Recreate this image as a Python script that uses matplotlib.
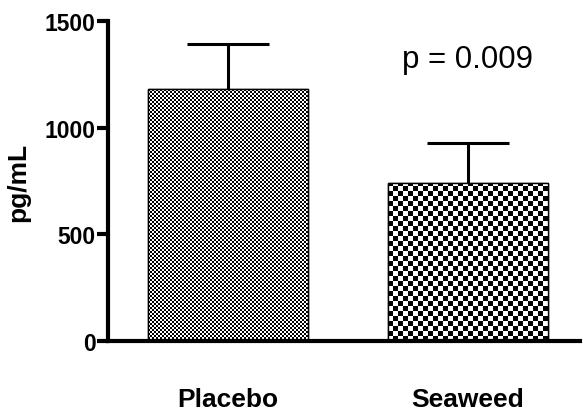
import numpy as np
import matplotlib
matplotlib.use("Agg")
import matplotlib.pyplot as plt

categories = ["Placebo", "Seaweed"]
means = [1180, 740]
sem = [210, 190]
yticks = [0, 500, 1000, 1500]
p_text = "p = 0.009"

plt.rcParams['font.family'] = ['Liberation Sans', 'DejaVu Sans']

W, H = 583, 410
fig = plt.figure(figsize=(W / 100, H / 100), dpi=100)
ax = fig.add_axes([108 / W, (H - 342) / H, (580 - 108) / W, 320 / H])

xpos = np.array([0.0, 1.5])
bars = ax.bar(xpos, means, width=1.0, color='white', edgecolor='black',
              linewidth=1.0, zorder=2)
ax.set_xlim(-0.75, 2.2)
ax.set_ylim(0, 1500)

# patterned fills
ph, pw = 320, 472
yy, xx = np.mgrid[0:ph, 0:pw]
pat1 = np.where(((xx // 2) + (yy // 2)) % 2 == 0, 0.0, 1.0)
pat2 = np.where(((xx // 5) + (yy // 5)) % 2 == 0, 0.0, 1.0)
for b, pat in zip(bars, [pat1, pat2]):
    im = ax.imshow(pat, cmap='gray', vmin=0, vmax=1, extent=[-0.75, 2.2, 0, 1500],
                   aspect='auto', interpolation='nearest', zorder=2.5, origin='upper')
    im.set_clip_path(b)
for b in bars:
    ax.add_patch(plt.Rectangle((b.get_x(), b.get_y()), b.get_width(), b.get_height(),
                               fill=False, edgecolor='black', linewidth=1.0, zorder=3))

# error bars (upper only)
cap = 0.255
for x, m, e in zip(xpos, means, sem):
    ax.vlines(x, m, m + e, color='black', linewidth=2.2, zorder=3)
    ax.hlines(m + e, x - cap, x + cap, color='black', linewidth=2.2, zorder=3)

ax.text(xpos[1], 1322, p_text, ha='center', va='center', fontsize=22.5)

for s in ['top', 'right']:
    ax.spines[s].set_visible(False)
for s in ['left', 'bottom']:
    ax.spines[s].set_linewidth(3)

ax.set_yticks(yticks)
ax.set_yticklabels([str(t) for t in yticks], fontsize=16.5, fontweight='bold')
ax.tick_params(axis='y', length=8, width=3, pad=1)
ax.set_xticks(xpos)
ax.set_xticklabels(categories, fontsize=19, fontweight='bold')
ax.tick_params(axis='x', length=0, pad=33)
ax.set_ylabel("pg/mL", fontsize=19, fontweight='bold', labelpad=10)

fig.savefig("out.png", dpi=100)
